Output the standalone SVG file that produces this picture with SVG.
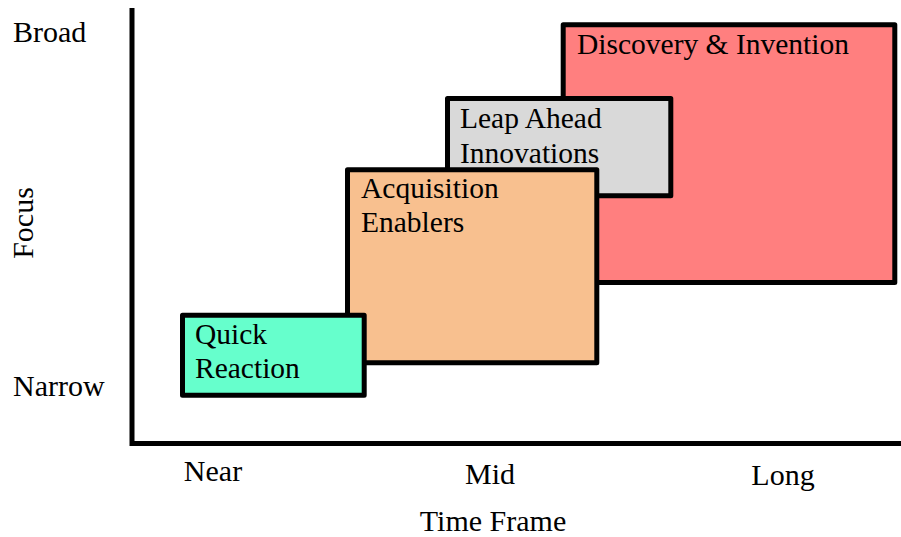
<svg xmlns="http://www.w3.org/2000/svg" width="901" height="537" viewBox="0 0 901 537">
  <style>
    text { font-family: "Liberation Serif", "Times New Roman", serif; fill: #000; }
    .ax { font-size: 30px; }
    .lbl { font-size: 29.5px; }
    .box { stroke: #000; stroke-width: 5; stroke-linejoin: round; }
    .axis { stroke: #000; stroke-width: 5; fill: none; stroke-linejoin: miter; }
  </style>
  <rect width="901" height="537" fill="#fff"/>

  <!-- axes -->
  <g id="axes">
    <path class="axis" d="M132 8 V443.5 H901"/>
  </g>

  <!-- axis labels -->
  <g id="axis-labels">
    <text class="ax" x="13" y="42">Broad</text>
    <text class="ax" x="13" y="396">Narrow</text>
    <text class="ax" transform="translate(33 223) rotate(-90)" text-anchor="middle">Focus</text>
    <text class="ax" x="213" y="481" text-anchor="middle">Near</text>
    <text class="ax" x="490" y="484" text-anchor="middle">Mid</text>
    <text class="ax" x="783" y="485" text-anchor="middle">Long</text>
    <text class="ax" x="493" y="531" text-anchor="middle">Time Frame</text>
  </g>

  <!-- stacked focus / time-frame regions -->
  <g id="discovery">
    <rect class="box" x="563.2" y="24.8" width="331.6" height="257.7" fill="#FF7F7F"/>
    <text class="lbl" x="577" y="54">Discovery &amp; Invention</text>
  </g>
  <g id="leap-ahead">
    <rect class="box" x="447.5" y="98.5" width="223.3" height="97.3" fill="#D9D9D9"/>
    <text class="lbl" x="460" y="128">Leap Ahead</text>
    <text class="lbl" x="460" y="163">Innovations</text>
  </g>
  <g id="acquisition">
    <rect class="box" x="347.5" y="169.8" width="249.3" height="193" fill="#F8C08F"/>
    <text class="lbl" x="361" y="198">Acquisition</text>
    <text class="lbl" x="361" y="232">Enablers</text>
  </g>
  <g id="quick-reaction">
    <rect class="box" x="182.5" y="315.2" width="181.7" height="80" fill="#66FFCC"/>
    <text class="lbl" x="195" y="344">Quick</text>
    <text class="lbl" x="195" y="378">Reaction</text>
  </g>
</svg>
